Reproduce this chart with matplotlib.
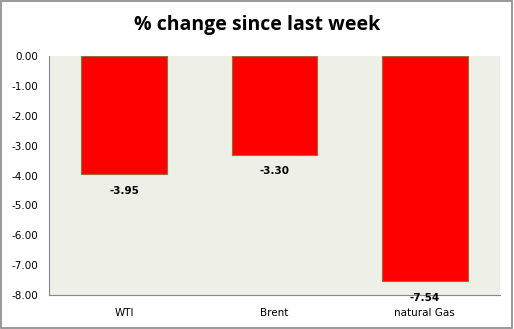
import matplotlib
matplotlib.use("Agg")
import matplotlib.pyplot as plt
from matplotlib.patches import Rectangle

categories = ["WTI", "Brent", "natural Gas"]
values = [-3.95, -3.30, -7.54]
yticks = [0.0, -1.0, -2.0, -3.0, -4.0, -5.0, -6.0, -7.0, -8.0]

fig = plt.figure(figsize=(5.14, 3.29), dpi=100)
fig.patch.set_facecolor("white")
fig.add_artist(Rectangle((0.002, 0.004), 0.994, 0.992, transform=fig.transFigure,
                         fill=False, edgecolor="#888888", linewidth=1.2))

ax = fig.add_axes([0.0953, 0.1033, 0.8775, 0.7265])
ax.set_facecolor("#EEF0E8")
x = range(len(categories))
ax.bar(x, values, width=0.57, color="#FF0000", edgecolor="#9C6B3C", linewidth=0.8)
ax.set_xlim(-0.5, 2.5)
ax.set_ylim(-8, 0)
ax.set_yticks(yticks)
ax.set_yticklabels([f"{v:.2f}" for v in yticks], fontsize=7.5, family="DejaVu Sans")
ax.set_xticks(list(x))
ax.set_xticklabels(categories, fontsize=7.5, family="DejaVu Sans")
ax.tick_params(length=0, pad=8)
ax.tick_params(axis="x", pad=9)
for side in ["top", "right"]:
    ax.spines[side].set_visible(False)
for side in ["left", "bottom"]:
    ax.spines[side].set_color("#888888")
    ax.spines[side].set_linewidth(0.8)

for xi, v in zip(x, values):
    ax.annotate(f"{v:.2f}", (xi, v), xytext=(0, -12), textcoords="offset points",
                ha="center", va="center", fontsize=7.5, fontweight="bold",
                family="DejaVu Sans")

fig.text(0.5, 0.925, "% change since last week", ha="center", va="center",
         fontsize=14, fontweight="bold", family="Open Sans")

fig.savefig("out.png", dpi=100)
